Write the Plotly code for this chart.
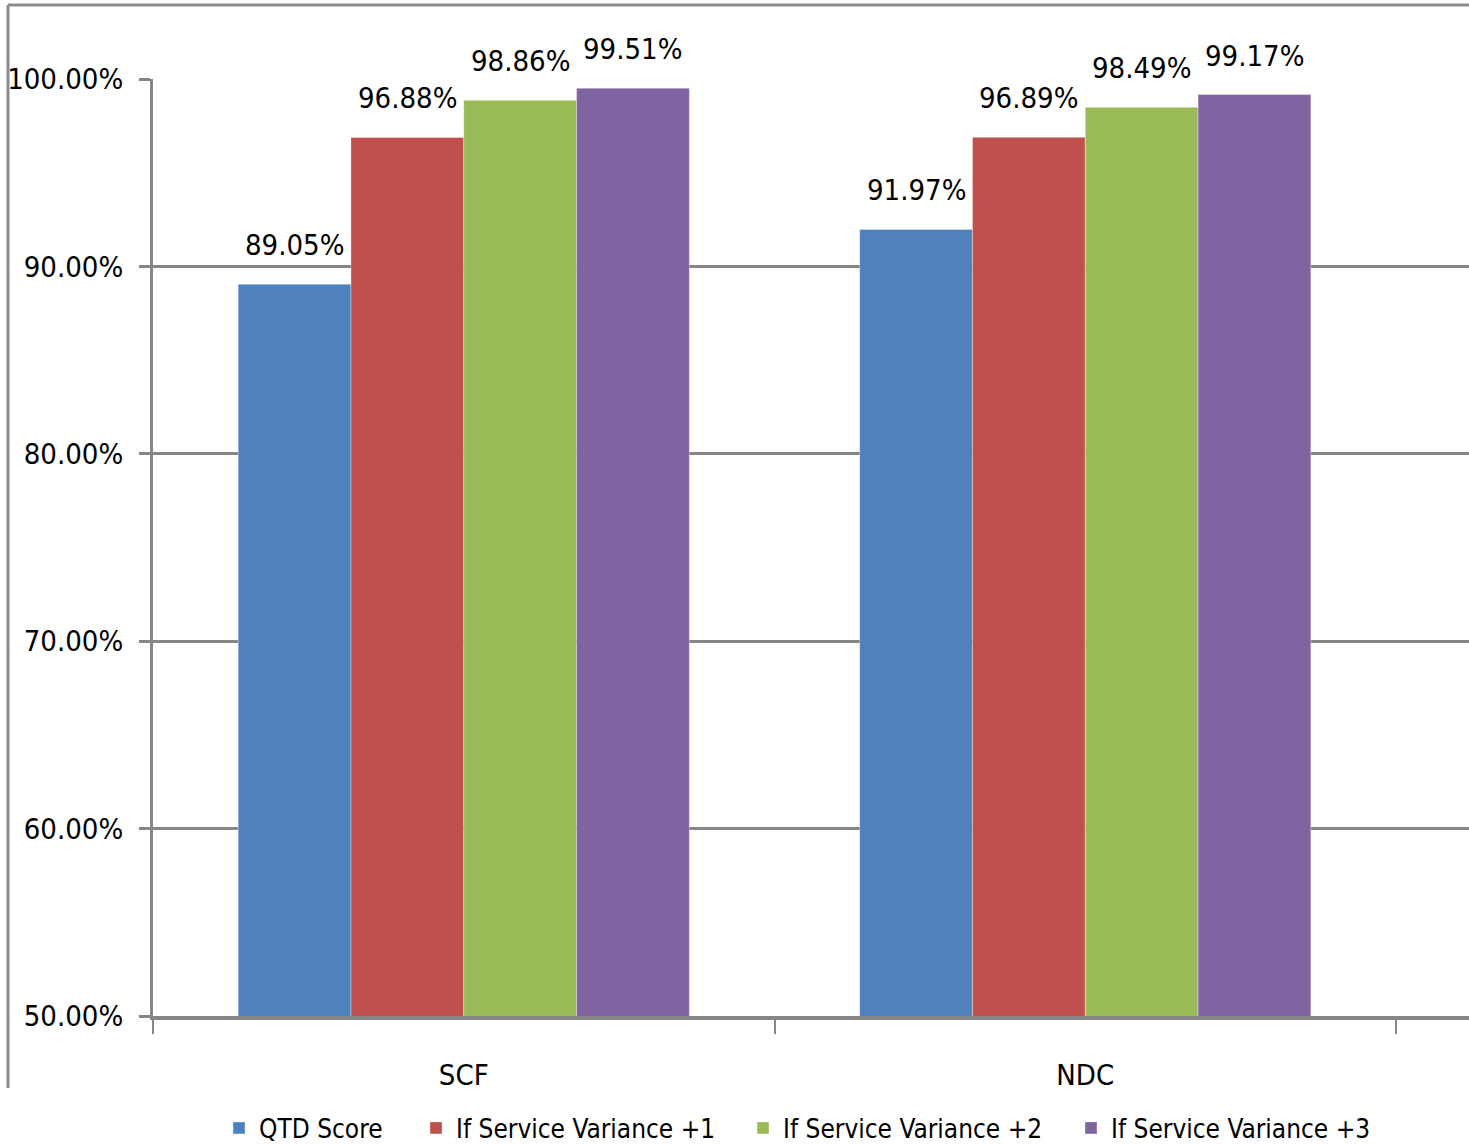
import plotly.graph_objects as go

categories = ["SCF", "NDC"]
series_names = ["QTD Score", "If Service Variance +1", "If Service Variance +2", "If Service Variance +3"]
qtd_score = [0.8905, 0.9197]
variance_1 = [0.9688, 0.9689]
variance_2 = [0.9886, 0.9849]
variance_3 = [0.9951, 0.9917]
y_ticks = [0.5, 0.6, 0.7, 0.8, 0.9, 1.0]

series_values = [qtd_score, variance_1, variance_2, variance_3]
colors = ["#4F81BD", "#C0504D", "#9BBB59", "#8064A2"]
legend_left_px = [233, 430, 757, 1085]

FONT = "DejaVu Sans Condensed, Liberation Sans, sans-serif"
GRID = "#868686"

W, H = 1469, 1145
L, R, T, B = 153, 0, 79, 129
plot_w = W - L - R
plot_h = H - T - B

cat_px = 621.5
x_hi = -0.5 + plot_w / cat_px
bargap = 0.274
bar_px = cat_px * (1 - bargap) / 4


def px_x(px):
    return (px - L) / plot_w


def px_y(py):
    return (H - B - py) / plot_h


fig = go.Figure()
legend_ids = ["legend", "legend2", "legend3", "legend4"]
for name, vals, col, lid in zip(series_names, series_values, colors, legend_ids):
    fig.add_trace(go.Bar(
        x=categories, y=vals, name=name, legend=lid,
        marker=dict(color=col, line=dict(color="rgba(255,255,255,0.35)", width=1)),
        hoverinfo="skip",
    ))

annotations = []
for i, vals in enumerate(series_values):
    for c, v in zip(categories, vals):
        annotations.append(dict(
            x=c, y=v, xref="x", yref="y",
            text=f"{v*100:.2f}%", showarrow=False,
            xanchor="center", yanchor="bottom",
            xshift=(i - 1.5) * bar_px, yshift=20,
            font=dict(family=FONT, size=29, color="black"),
        ))

shapes = [
    dict(type="line", xref="paper", yref="paper",
         x0=px_x(8), x1=px_x(8), y0=px_y(1088), y1=px_y(5),
         line=dict(color="#8c8c8c", width=3)),
    dict(type="line", xref="paper", yref="paper",
         x0=px_x(8), x1=1.0, y0=px_y(5), y1=px_y(5),
         line=dict(color="#8c8c8c", width=3)),
]

legend_layouts = {}
for lid, lx in zip(legend_ids, legend_left_px):
    legend_layouts[lid] = dict(
        orientation="h", x=px_x(lx - 14), xanchor="left",
        y=px_y(1128), yanchor="middle",
        font=dict(family=FONT, size=26, color="black"),
        bgcolor="rgba(0,0,0,0)", itemclick=False, itemdoubleclick=False,
    )

fig.update_layout(
    width=W, height=H,
    margin=dict(l=L, r=R, t=T, b=B, pad=0, autoexpand=False),
    paper_bgcolor="white", plot_bgcolor="white",
    barmode="group", bargap=bargap, bargroupgap=0,
    font=dict(family=FONT, size=29, color="black"),
    annotations=annotations,
    shapes=shapes,
    showlegend=True,
    xaxis=dict(
        type="category", range=[-0.5, x_hi], automargin=False,
        tickson="boundaries", ticks="outside", ticklen=14, tickwidth=2, tickcolor=GRID,
        showline=True, linecolor=GRID, linewidth=4,
        showgrid=False, ticklabelstandoff=30,
        tickfont=dict(family=FONT, size=29, color="black"),
    ),
    yaxis=dict(
        range=[0.5, 1.0], tickvals=y_ticks, tickformat=".2%", automargin=False,
        showgrid=True, gridcolor=GRID, gridwidth=3,
        showline=True, linecolor=GRID, linewidth=3,
        ticks="outside", ticklen=11, tickwidth=3, tickcolor=GRID,
        zeroline=False, ticklabelstandoff=10,
        tickfont=dict(family=FONT, size=29, color="black"),
    ),
    **legend_layouts,
)

fig.write_html("out.html")
